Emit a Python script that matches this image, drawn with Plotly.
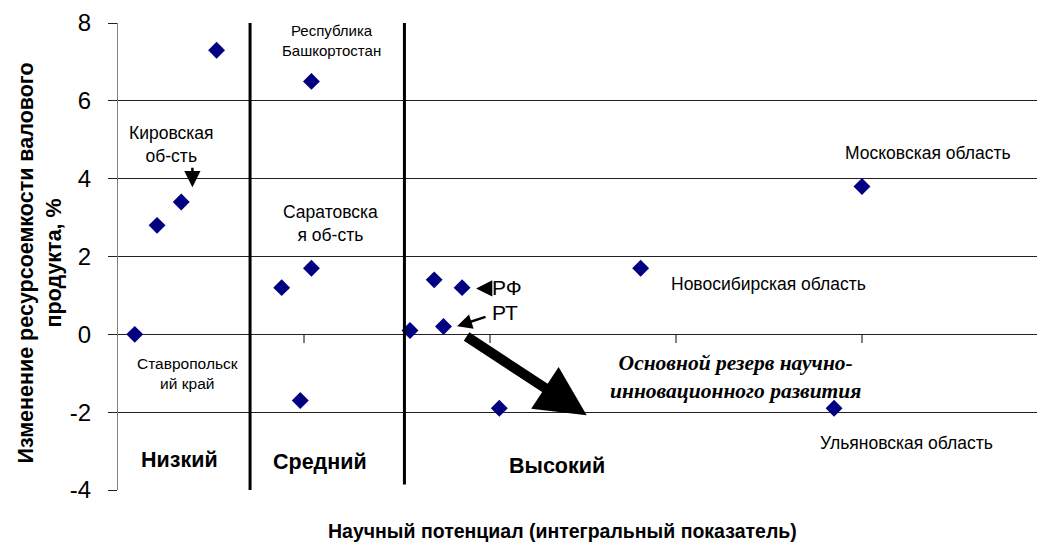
import plotly.graph_objects as go

# Data: scientific potential (x) vs change in resource intensity of GRP, % (y)
x_vals = [0.09, 0.21, 0.34, 0.53, 0.88, 0.98, 1.04, 1.04, 1.57, 1.70, 1.75, 1.85, 2.05, 2.81, 3.85, 4.00]
y_vals = [0.0, 2.8, 3.4, 7.3, 1.2, -1.7, 6.5, 1.7, 0.1, 1.4, 0.2, 1.2, -1.9, 1.7, -1.9, 3.8]

# group boundaries (low / medium / high potential)
group_bounds = [0.71, 1.54]
group_labels = ["Низкий", "Средний", "Высокий"]
group_label_x = [0.333, 1.086, 2.36]
group_label_y = [-3.24, -3.29, -3.39]

y_ticks = [-4, -2, 0, 2, 4, 6, 8]
y_tick_text = ["-4", "-2", "0", "2", "4", "6", "8"]
x_ticks = [1, 2, 3, 4]

SANS = "Arial, Liberation Sans, sans-serif"
SERIF = "Times New Roman, Liberation Serif, serif"

fig = go.Figure()
fig.add_trace(go.Scatter(
    x=x_vals, y=y_vals, mode="markers",
    marker=dict(symbol="diamond", size=13, color="#000080"),
    showlegend=False, hoverinfo="x+y",
))

# dividers
fig.add_shape(type="line", xref="x", yref="y", x0=group_bounds[0], x1=group_bounds[0],
              y0=-4.19, y1=8.07, line=dict(color="black", width=3))
fig.add_shape(type="line", xref="x", yref="y", x0=group_bounds[1], x1=group_bounds[1],
              y0=-3.86, y1=8.15, line=dict(color="black", width=3))

def txt(x, y, text, size, bold=False, family=SANS, italic=False, bg="white"):
    t = text
    if bold:
        t = "<b>" + t + "</b>"
    if italic:
        t = "<i>" + t + "</i>"
    fig.add_annotation(x=x, y=y, xref="x", yref="y", text=t, showarrow=False,
                       font=dict(family=family, size=size, color="black"),
                       bgcolor=bg, borderpad=0, xanchor="center", yanchor="middle")

def arrow(x0, y0, x1, y1, width, size, head=2):
    fig.add_annotation(x=x1, y=y1, ax=x0, ay=y0, xref="x", yref="y", axref="x", ayref="y",
                       text="", showarrow=True, arrowhead=head, arrowsize=size,
                       arrowwidth=width, arrowcolor="black")

# region labels
txt(0.285, 4.88, "Кировская<br>об-сть", 17.5)
arrow(0.40, 4.32, 0.40, 3.78, 2.5, 1.3)
txt(1.15, 7.56, "Республика<br>Башкортостан", 15)
txt(1.14, 2.85, "Саратовска<br>я об-сть", 17.5)
txt(0.376, -1.0, "Ставропольск<br>ий край", 15.5)
txt(4.355, 4.65, "Московская область", 17.5)
txt(3.50, 1.29, "Новосибирская область", 17.5)
txt(4.24, -2.80, "Ульяновская область", 17.5)
txt(2.09, 1.21, "РФ", 21, bg="rgba(0,0,0,0)")
arrow(2.0, 1.18, 1.925, 1.18, 2.5, 1.3)
txt(2.08, 0.56, "РТ", 21, bg="rgba(0,0,0,0)")
arrow(1.984, 0.46, 1.823, 0.21, 2.5, 1.2)
arrow(1.866, -0.03, 2.52, -2.08, 10, 1.0)
txt(3.32, -1.1, "Основной резерв научно-<br>инновационного развития", 21.5,
    bold=True, italic=True, family=SERIF, bg="rgba(0,0,0,0)")

for lx, ly, lab in zip(group_label_x, group_label_y, group_labels):
    txt(lx, ly, lab, 21.5, bold=True, bg="rgba(0,0,0,0)")

# axis titles
fig.add_annotation(x=-0.0843, y=0.487, xref="paper", yref="paper", showarrow=False,
                   text="<b>Изменение ресурсоемкости валового<br>продукта, %</b>",
                   textangle=-90, font=dict(family=SANS, size=21.5, color="black"),
                   xanchor="center", yanchor="middle")
fig.add_annotation(x=0.48, y=-0.088, xref="paper", yref="paper", showarrow=False,
                   text="<b>Научный потенциал (интегральный показатель)</b>",
                   font=dict(family=SANS, size=19.5, color="black"),
                   xanchor="center", yanchor="middle")

fig.update_layout(
    width=1037, height=536,
    margin=dict(l=110, r=0, t=15, b=54),
    paper_bgcolor="white", plot_bgcolor="white",
    xaxis=dict(range=[0, 4.984], tickvals=x_ticks, showticklabels=False,
               ticks="outside", ticklen=8, tickwidth=2, tickcolor="#808080",
               showgrid=False, zeroline=False, showline=False,
               anchor="free", position=1/3),
    yaxis=dict(range=[-4, 8], tickvals=y_ticks, ticktext=y_tick_text,
               ticks="outside", ticklen=9, tickcolor="#222", tickwidth=1,
               tickfont=dict(family=SANS, size=24, color="black"),
               showgrid=True, gridcolor="#222", gridwidth=1,
               zeroline=False, showline=True, linecolor="#808080", linewidth=1,
               ticklabelstandoff=12),
    font=dict(family=SANS),
)

fig.write_html("out.html")
